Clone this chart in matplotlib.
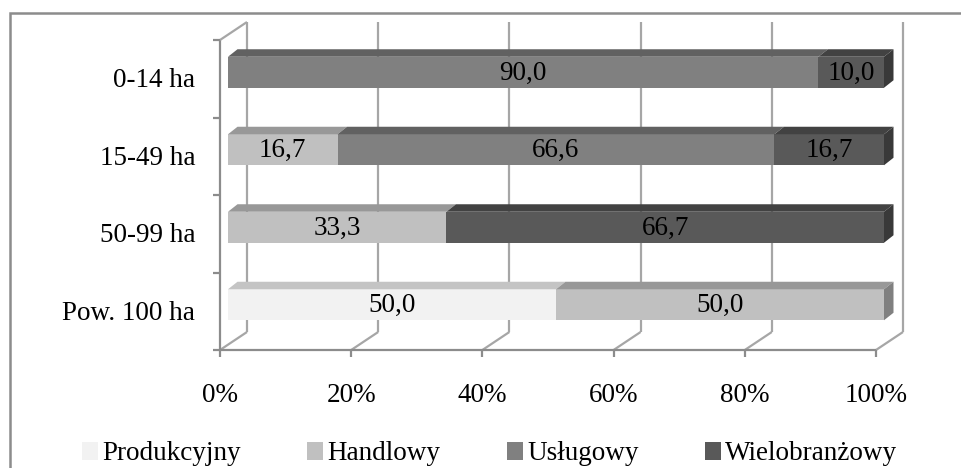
"""
Struktura gospodarstw wg grup obszarowych - 100% skumulowany wykres
słupkowy w stylu 3D (ściany, podłoga, ścianki słupków).
"""

import matplotlib.pyplot as plt
import numpy as np
from matplotlib.patches import Patch, Polygon, Rectangle

plt.rcParams["font.family"] = ["Liberation Serif", "DejaVu Serif"]

# -------------------------------------------------------------------------
# dane
# -------------------------------------------------------------------------
categories = ["0-14 ha", "15-49 ha", "50-99 ha", "Pow. 100 ha"]
series = ["Produkcyjny", "Handlowy", "Usługowy", "Wielobranżowy"]

produkcyjny = [0.0, 0.0, 0.0, 50.0]
handlowy = [0.0, 16.7, 33.3, 50.0]
uslugowy = [90.0, 66.6, 0.0, 0.0]
wielobranzowy = [10.0, 16.7, 66.7, 0.0]

x_ticks = [0, 20, 40, 60, 80, 100]
x_tick_labels = ["0%", "20%", "40%", "60%", "80%", "100%"]

# kolory: przód, góra, bok
FRONT = ["#f2f2f2", "#c0c0c0", "#808080", "#595959"]
TOP = ["#c4c4c4", "#989898", "#616161", "#424242"]
SIDE = ["#a8a8a8", "#808080", "#5a5a5a", "#393939"]
WALL = "#a6a6a6"
AXIS = "#8c8c8c"

FS = 19.5

W, H = 962, 468
fig = plt.figure(figsize=(W / 100, H / 100), dpi=100)

# płaszczyzna przednia osi: 0..100% => piksele 220..876, kategorie 40..350
ax_l, ax_r, ax_t, ax_b = 220, 876, 40, 350
ax = fig.add_axes([ax_l / W, 1 - ax_b / H, (ax_r - ax_l) / W, (ax_b - ax_t) / H])
ax.set_xlim(0, 100)
ax.set_ylim(len(categories) - 0.5, -0.5)
ax.axis("off")

px_x = 100 / (ax_r - ax_l)                    # % na piksel
px_y = len(categories) / (ax_b - ax_t)        # jednostki kategorii na piksel


def off(dx, dy):
    """Przesunięcie w pikselach (w prawo, w górę) -> jednostki danych."""
    return dx * px_x, -dy * px_y


# głębia ściany tylnej i słupków
wx, wy = off(27, 18)
bx0, by0 = off(8, 6.5)         # położenie przedniej ściany słupka
dx, dy = off(9.5, 7.5)         # głębokość słupka
bar_h = 31 * px_y

y_top, y_bot = -0.5, len(categories) - 0.5
line_kw = dict(clip_on=False, solid_capstyle="butt")

# ściana tylna - linie siatki
for t, lab in zip(x_ticks, x_tick_labels):
    ax.plot([t + wx, t + wx], [y_bot + wy, y_top + wy], color=WALL, lw=1.6, **line_kw)
    ax.plot([t, t + wx], [y_bot, y_bot + wy], color=WALL, lw=1.6, **line_kw)
    ax.plot([t, t], [y_bot, y_bot + 7 * px_y], color=AXIS, lw=1.6, **line_kw)
    ax.text(t, y_bot + 45 * px_y, lab, ha="center", va="center", fontsize=FS)

# oś kategorii i oś wartości (krawędzie przednie)
ax.plot([0, 0], [y_top, y_bot], color=AXIS, lw=1.6, **line_kw)
ax.plot([0, 100], [y_bot, y_bot], color=AXIS, lw=1.6, **line_kw)
ax.plot([0, wx], [y_top, y_top + wy], color=WALL, lw=1.6, **line_kw)
for b in np.arange(y_top, y_bot + 0.01, 1.0):
    ax.plot([-7 * px_x, 0], [b, b], color=AXIS, lw=1.6, **line_kw)

for i, cat in enumerate(categories):
    ax.text(-25 * px_x, i + 2 * px_y, cat, ha="right", va="center", fontsize=FS)

# słupki
values = np.array([produkcyjny, handlowy, uslugowy, wielobranzowy])
y_pos = np.arange(len(categories)) + by0
lefts = np.zeros(len(categories))
for k, name in enumerate(series):
    vals = values[k]
    ax.barh(y_pos, vals, left=lefts + bx0, height=bar_h, color=FRONT[k],
            edgecolor="none", clip_on=False, zorder=3)
    for i, v in enumerate(vals):
        if v <= 0:
            continue
        x0, x1 = lefts[i] + bx0, lefts[i] + v + bx0
        yt = y_pos[i] - bar_h / 2
        ax.add_patch(Polygon([(x0, yt), (x1, yt), (x1 + dx, yt + dy), (x0 + dx, yt + dy)],
                             closed=True, fc=TOP[k], ec="none", clip_on=False, zorder=3))
        if np.isclose(lefts[i] + v, 100):
            yb = y_pos[i] + bar_h / 2
            ax.add_patch(Polygon([(x1, yt), (x1 + dx, yt + dy), (x1 + dx, yb + dy), (x1, yb)],
                                 closed=True, fc=SIDE[k], ec="none", clip_on=False, zorder=3))
        ax.text(lefts[i] + v / 2 + bx0, y_pos[i] + 1 * px_y, f"{v:.1f}".replace(".", ","),
                ha="center", va="center", fontsize=FS, zorder=4)
    lefts = lefts + vals

# legenda
handles = [Patch(facecolor=FRONT[k], edgecolor="none", label=s) for k, s in enumerate(series)]
fig.legend(handles=handles, loc="center", bbox_to_anchor=(0.509, 1 - 454 / H), ncol=4,
           frameon=False, fontsize=FS, handlelength=0.6, handleheight=0.6,
           handletextpad=0.15, columnspacing=2.45, borderaxespad=0)

# ramka obszaru wykresu
fig.add_artist(Rectangle((10 / W, -0.1), 2, 1 - 13 / H + 0.1, transform=fig.transFigure,
                         fill=False, ec="#8c8c8c", lw=1.8))

fig.savefig("out.png", dpi=100)
